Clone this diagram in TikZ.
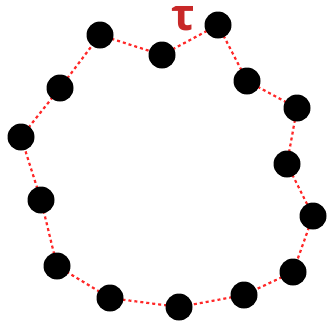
\documentclass[tikz,border=0pt]{standalone}
\usepackage{fontspec}
\newfontfamily\taufont{Open Sans}
\definecolor{taured}{RGB}{200,40,40}
\definecolor{linkred}{RGB}{255,40,40}
\begin{document}
\begin{tikzpicture}[x=1pt,y=-1pt,
  bead/.style={circle,fill=black,minimum size=27pt,inner sep=0pt},
  link/.style={draw=linkred,line width=2.2pt,dash pattern=on 3pt off 3pt}]
\useasboundingbox (0,0) rectangle (328,327);
\foreach \n/\x/\y in {1/100/35,2/162/55,3/218/25,4/247/81,5/297/108,6/287/164,7/313/216,8/293/272,9/244/295,10/179/307,11/110/298,12/57/266,13/41/200,14/21/137,15/60/88}
  \coordinate (c\n) at (\x,\y);
\foreach \a/\b in {1/2,2/3,3/4,4/5,5/6,6/7,7/8,8/9,9/10,10/11,11/12,12/13,13/14,14/15,15/1}
  \draw[link] (c\a) -- (c\b);
\foreach \n in {1,...,15}
  \node[bead] (b\n) at (c\n) {};
\node[text=taured,font=\taufont\bfseries\fontsize{44}{44}\selectfont,inner sep=0pt,text height=22pt,text depth=0pt,anchor=base] (tau) at (183,30) {τ};
\end{tikzpicture}
\end{document}
